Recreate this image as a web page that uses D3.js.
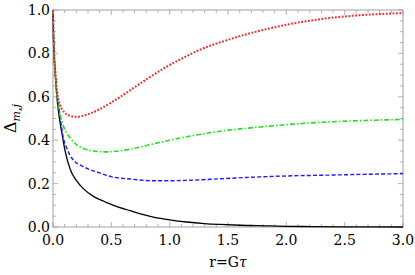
<!DOCTYPE html>
<html>
<head>
<meta charset="utf-8">
<script src="https://cdn.jsdelivr.net/npm/d3@7"></script>
<style>
  body { margin: 0; background: #fff; }
</style>
</head>
<body>
<svg width="415" height="275"></svg>
<script>
// values: r = G*tau and Delta_{m,j}
var blackR = [0, 0.005, 0.01, 0.02, 0.03, 0.05, 0.077, 0.1, 0.148, 0.2, 0.26, 0.35, 0.45, 0.52, 0.66, 0.75, 0.86, 1.0, 1.146, 1.3, 1.43, 1.6, 1.86, 2.0, 2.2, 2.5, 3.0];
var blackD = [1, 0.86, 0.79, 0.7, 0.62, 0.52, 0.43, 0.36, 0.265, 0.215, 0.177, 0.14, 0.115, 0.1, 0.075, 0.06, 0.046, 0.033, 0.023, 0.016, 0.012, 0.008, 0.005, 0.003, 0.002, 0.001, 0.0];

var blueR = [0, 0.005, 0.01, 0.02, 0.03, 0.048, 0.063, 0.089, 0.12, 0.146, 0.19, 0.234, 0.3, 0.374, 0.5, 0.66, 0.86, 1.0, 1.146, 1.43, 1.774, 2.06, 2.35, 2.7, 3.0];
var blueD = [1, 0.86, 0.79, 0.71, 0.64, 0.56, 0.5, 0.41, 0.36, 0.331, 0.3, 0.285, 0.268, 0.254, 0.232, 0.221, 0.213, 0.213, 0.215, 0.222, 0.231, 0.236, 0.239, 0.243, 0.246];

var greenR = [0, 0.005, 0.01, 0.017, 0.028, 0.048, 0.077, 0.11, 0.148, 0.2, 0.26, 0.35, 0.446, 0.574, 0.7, 0.86, 1.0, 1.146, 1.43, 1.774, 2.06, 2.35, 2.63, 3.0];
var greenD = [1, 0.87, 0.8, 0.72, 0.64, 0.56, 0.485, 0.44, 0.41, 0.38, 0.362, 0.35, 0.346, 0.351, 0.363, 0.383, 0.4, 0.416, 0.441, 0.461, 0.474, 0.484, 0.49, 0.496];

var redR = [0, 0.005, 0.011, 0.02, 0.034, 0.063, 0.1, 0.131, 0.2, 0.3, 0.4, 0.5, 0.6, 0.7, 0.8, 0.946, 1.1, 1.23, 1.52, 1.8, 2.09, 2.37, 2.66, 3.0];
var redD = [1, 0.88, 0.79, 0.715, 0.63, 0.56, 0.527, 0.515, 0.508, 0.52, 0.543, 0.574, 0.608, 0.644, 0.68, 0.73, 0.775, 0.81, 0.866, 0.908, 0.941, 0.963, 0.977, 0.986];

var xTicks = [0, 0.5, 1.0, 1.5, 2.0, 2.5, 3.0];
var yTicks = [0, 0.2, 0.4, 0.6, 0.8, 1.0];

var FONT = "'DejaVu Serif', 'Liberation Serif', serif";

var svg = d3.select("svg"),
    margin = {top: 10, right: 12, bottom: 48, left: 53},
    width = 415 - margin.left - margin.right,
    height = 275 - margin.top - margin.bottom,
    g = svg.append("g").attr("transform", "translate(" + margin.left + "," + margin.top + ")");

var x = d3.scaleLinear().domain([0, 3]).range([0, width]),
    y = d3.scaleLinear().domain([0, 1]).range([height, 0]);

var frameColor = "#a0a0a0";

// frame
g.append("rect")
    .attr("width", width).attr("height", height)
    .attr("fill", "none").attr("stroke", frameColor).attr("stroke-width", 1);

// ticks inside on all four sides
var xMinor = d3.range(0, 3.0001, 0.1),
    yMinor = d3.range(0, 1.0001, 0.05);

function isMajor(v, step) { return Math.abs(v / step - Math.round(v / step)) < 1e-6; }

var tickG = g.append("g").attr("stroke", frameColor).attr("stroke-width", 0.8);
xMinor.forEach(function (v) {
    var len = isMajor(v, 0.5) ? 5 : 3;
    tickG.append("line").attr("x1", x(v)).attr("x2", x(v)).attr("y1", height).attr("y2", height - len);
    tickG.append("line").attr("x1", x(v)).attr("x2", x(v)).attr("y1", 0).attr("y2", len);
});
yMinor.forEach(function (v) {
    var len = isMajor(v, 0.2) ? 5 : 3;
    tickG.append("line").attr("x1", 0).attr("x2", len).attr("y1", y(v)).attr("y2", y(v));
    tickG.append("line").attr("x1", width).attr("x2", width - len).attr("y1", y(v)).attr("y2", y(v));
});

// tick labels
g.selectAll(".xl").data(xTicks).enter().append("text")
    .attr("x", function (d) { return x(d); })
    .attr("y", height + 18)
    .attr("text-anchor", "middle")
    .style("font-family", FONT)
    .style("font-size", "14px")
    .text(function (d) { return d.toFixed(1); });

g.selectAll(".yl").data(yTicks).enter().append("text")
    .attr("x", -3)
    .attr("y", function (d) { return y(d); })
    .attr("dy", "0.36em")
    .attr("text-anchor", "end")
    .style("font-family", FONT)
    .style("font-size", "14px")
    .text(function (d) { return d.toFixed(1); });

// axis titles
svg.append("text")
    .attr("x", margin.left + width / 2)
    .attr("y", 267)
    .attr("text-anchor", "middle")
    .style("font-family", FONT)
    .style("font-size", "14px")
    .html("r=G<tspan font-style='italic'>τ</tspan>");

svg.append("text")
    .attr("transform", "translate(16," + (margin.top + height / 2) + ") rotate(-90)")
    .attr("text-anchor", "middle")
    .style("font-family", FONT)
    .style("font-size", "16px")
    .html("Δ<tspan font-style='italic' font-size='11px' dy='4'>m,j</tspan>");

// curves
var line = d3.line()
    .curve(d3.curveMonotoneX)
    .x(function (d) { return x(d[0]); })
    .y(function (d) { return y(d[1]); });

function pairs(rs, ds) { return rs.map(function (r, i) { return [r, ds[i]]; }); }

var series = [
    {id: "black", pts: pairs(blackR, blackD), color: "#000000", dash: null, w: 1.3},
    {id: "blue", pts: pairs(blueR, blueD), color: "#1a1aff", dash: "4,2.2", w: 1.4},
    {id: "green", pts: pairs(greenR, greenD), color: "#22e022", dash: "5,2,1.5,2", w: 1.6},
    {id: "red", pts: pairs(redR, redD), color: "#ff2020", dash: "1.8,1.6", w: 2}
];

g.selectAll(".curve").data(series).enter().append("path")
    .attr("class", "curve")
    .attr("d", function (d) { return line(d.pts); })
    .attr("fill", "none")
    .attr("stroke", function (d) { return d.color; })
    .attr("stroke-width", function (d) { return d.w; })
    .attr("stroke-dasharray", function (d) { return d.dash; });
</script>
</body>
</html>
